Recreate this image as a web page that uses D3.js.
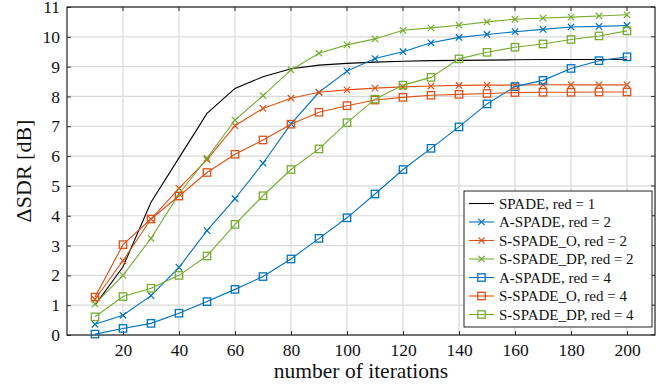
<!DOCTYPE html>
<html><head><meta charset="utf-8">
<script src="https://cdn.jsdelivr.net/npm/d3@7"></script>
<style>body{margin:0;background:#fff}svg{display:block}text{font-family:"Liberation Serif","DejaVu Serif",serif}</style>
</head><body><svg id="c" width="672" height="385"></svg>
<script>
const iterations = [10,20,30,40,50,60,70,80,90,100,110,120,130,140,150,160,170,180,190,200];
const spade1 = [1.0,2.29,4.45,5.94,7.43,8.27,8.66,8.93,9.05,9.11,9.15,9.18,9.2,9.21,9.22,9.23,9.24,9.24,9.24,9.25];
const aspade2 = [0.36,0.66,1.32,2.27,3.5,4.57,5.76,7.08,8.14,8.85,9.27,9.5,9.8,9.98,10.08,10.17,10.25,10.33,10.35,10.38];
const sspadeO2 = [1.2,2.49,3.89,4.92,5.88,7.02,7.6,7.94,8.14,8.22,8.28,8.32,8.35,8.37,8.38,8.38,8.39,8.39,8.39,8.39];
const sspadeDP2 = [1.04,2.0,3.24,4.73,5.93,7.21,8.03,8.89,9.45,9.73,9.93,10.22,10.3,10.39,10.5,10.59,10.63,10.66,10.7,10.74];
const aspade4 = [0.03,0.22,0.39,0.73,1.12,1.53,1.96,2.55,3.24,3.93,4.73,5.55,6.26,6.98,7.75,8.33,8.54,8.94,9.2,9.33];
const sspadeO4 = [1.27,3.03,3.89,4.66,5.45,6.06,6.54,7.07,7.47,7.69,7.88,7.97,8.04,8.07,8.1,8.13,8.14,8.14,8.15,8.15];
const sspadeDP4 = [0.61,1.29,1.57,2.0,2.65,3.71,4.67,5.55,6.24,7.12,7.91,8.38,8.64,9.26,9.48,9.65,9.76,9.91,10.03,10.2];
const xTicks = [20,40,60,80,100,120,140,160,180,200];
const yTicks = [0,1,2,3,4,5,6,7,8,9,10,11];
const seriesNames = ["SPADE, red = 1","A-SPADE, red = 2","S-SPADE_O, red = 2","S-SPADE_DP, red = 2","A-SPADE, red = 4","S-SPADE_O, red = 4","S-SPADE_DP, red = 4"];
const seriesColors = ["#000000","#0072BD","#D95319","#77AC30","#0072BD","#D95319","#77AC30"];
const seriesMarkers = ["none","cross","cross","cross","square","square","square"];
const seriesValues = [spade1,aspade2,sspadeO2,sspadeDP2,aspade4,sspadeO4,sspadeDP4];

const svg = d3.select("#c");
const L=67,R=655,T=7,B=335;
const x = d3.scaleLinear().domain([0,210]).range([L,R]);
const y = d3.scaleLinear().domain([0,11]).range([B,T]);

// grid
const g = svg.append("g");
g.selectAll(".gx").data(xTicks).enter().append("line")
 .attr("x1",d=>x(d)).attr("x2",d=>x(d)).attr("y1",T).attr("y2",B)
 .attr("stroke","#d9d9d9").attr("stroke-width",1.2);
g.selectAll(".gy").data(yTicks).enter().append("line")
 .attr("y1",d=>y(d)).attr("y2",d=>y(d)).attr("x1",L).attr("x2",R)
 .attr("stroke","#d9d9d9").attr("stroke-width",1.2);

// axes
const xa = svg.append("g").attr("transform",`translate(0,${B})`)
 .call(d3.axisBottom(x).tickValues(xTicks).tickSizeInner(-4).tickSizeOuter(0).tickPadding(9));
const ya = svg.append("g").attr("transform",`translate(${L},0)`)
 .call(d3.axisLeft(y).tickValues(yTicks).tickSizeInner(-4).tickSizeOuter(0).tickPadding(7));
[xa,ya].forEach(a=>{a.select(".domain").remove();a.selectAll("line").attr("stroke","#333");
 a.selectAll("text").attr("font-size",17.5).attr("fill","#111").style("font-family","'Liberation Serif',serif");});
// right/top ticks
svg.append("g").selectAll("line").data(yTicks).enter().append("line")
 .attr("x1",R).attr("x2",R-4).attr("y1",d=>y(d)).attr("y2",d=>y(d)).attr("stroke","#333");
svg.append("g").selectAll("line").data(xTicks).enter().append("line")
 .attr("y1",T).attr("y2",T+4).attr("x1",d=>x(d)).attr("x2",d=>x(d)).attr("stroke","#333");
svg.append("rect").attr("x",L).attr("y",T).attr("width",R-L).attr("height",B-T)
 .attr("fill","none").attr("stroke","#222").attr("stroke-width",1.2);

// lines
const line = d3.line().x((d,i)=>x(iterations[i])).y(d=>y(d));
function marker(sel,type,color){
  if(type==="cross"){
    sel.append("path").attr("d","M-3.2,-3.2L3.2,3.2M-3.2,3.2L3.2,-3.2").attr("stroke",color).attr("stroke-width",1.2).attr("fill","none");
  } else if(type==="square"){
    sel.append("rect").attr("x",-3.7).attr("y",-3.7).attr("width",7.4).attr("height",7.4).attr("stroke",color).attr("stroke-width",1.3).attr("fill","none");
  }
}
seriesValues.forEach((vals,k)=>{
  const sg = svg.append("g");
  sg.append("path").datum(vals).attr("d",line).attr("fill","none")
   .attr("stroke",seriesColors[k]).attr("stroke-width",1.1);
  if(seriesMarkers[k]!=="none"){
    vals.forEach((v,i)=>{
      const m = sg.append("g").attr("transform",`translate(${x(iterations[i])},${y(v)})`);
      marker(m,seriesMarkers[k],seriesColors[k]);
    });
  }
});

// legend
const lg = svg.append("g");
lg.append("rect").attr("x",464).attr("y",191).attr("width",188).attr("height",136)
 .attr("fill","#fff").attr("stroke","#222").attr("stroke-width",1);
seriesNames.forEach((n,k)=>{
  const yy = 203.5 + k*18.5;
  lg.append("line").attr("x1",469).attr("x2",494).attr("y1",yy).attr("y2",yy).attr("stroke",seriesColors[k]).attr("stroke-width",1.1);
  if(seriesMarkers[k]!=="none"){
    const m = lg.append("g").attr("transform",`translate(481.5,${yy})`);
    marker(m,seriesMarkers[k],seriesColors[k]);
  }
  lg.append("text").attr("x",499).attr("y",yy+5).attr("font-size",15).attr("fill","#111").text(n);
});

// axis labels
svg.append("text").attr("x",(L+R)/2).attr("y",378).attr("text-anchor","middle").attr("font-size",21.5).attr("fill","#111").text("number of iterations");
svg.append("text").attr("transform",`translate(31,${(T+B)/2}) rotate(-90)`).attr("text-anchor","middle").attr("font-size",22).attr("fill","#111").text("ΔSDR [dB]");
</script></body></html>
